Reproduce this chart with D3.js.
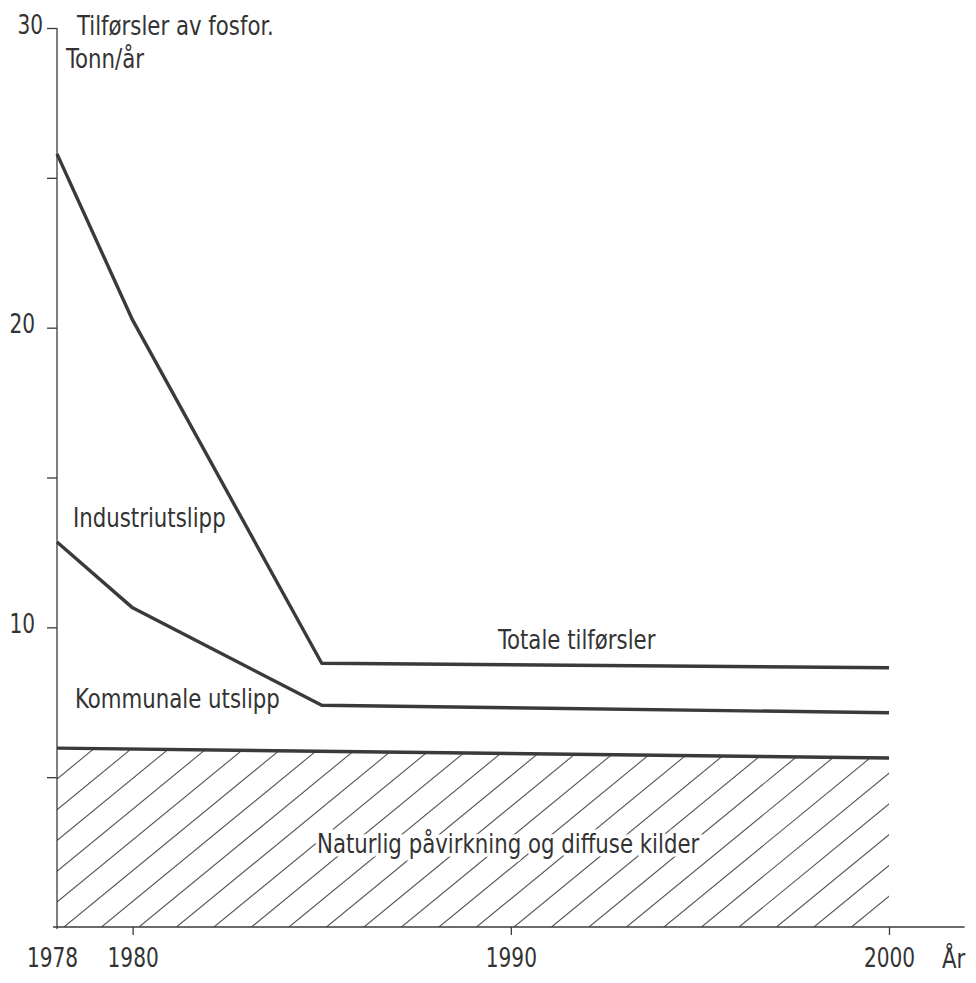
<!DOCTYPE html>
<html>
<head>
<meta charset="utf-8">
<script src="https://cdn.jsdelivr.net/npm/d3@7"></script>
<style>
  body { margin: 0; background: #fff; }
  svg { display: block; }
  text { font-family: "DejaVu Sans Condensed", "Liberation Sans Narrow", "Liberation Sans", sans-serif; fill: #333; }
</style>
</head>
<body>
<svg id="chart"></svg>
<script>
// data (tonn fosfor per år)
const years = [1978, 1980, 1985, 2000];
const totale = [25.8, 20.25, 8.8, 8.65];
const kommunaleTopp = [12.85, 10.65, 7.4, 7.15];
const naturYears = [1978, 2000];
const naturlig = [5.97, 5.64];
const yTicks = [5, 10, 15, 20, 25, 30];
const yLabels = [10, 20, 30];
const xTicks = [1978, 1980, 1990, 2000];

const width = 976, height = 983;
const svg = d3.select("#chart").attr("width", width).attr("height", height);

const x = d3.scaleLinear().domain([1978, 2000]).range([57, 889]);
const y = d3.scaleLinear().domain([0, 30]).range([927, 28]);

const ink = "#3a3a3a";

// hatched area for natural sources
const area = d3.area()
  .x(d => x(d[0]))
  .y0(y(0))
  .y1(d => y(d[1]));
const natData = naturYears.map((yr, i) => [yr, naturlig[i]]);

svg.append("clipPath").attr("id", "natclip")
  .append("path").attr("d", area(natData));

const hatch = svg.append("g").attr("clip-path", "url(#natclip)");
const slope = 0.82, step = 37.5, hH = 220;
for (let xb = x(1978) + 7 - 6 * step; xb < x(2000) + step; xb += step) {
  hatch.append("line")
    .attr("x1", xb).attr("y1", y(0))
    .attr("x2", xb + hH / slope).attr("y2", y(0) - hH)
    .attr("stroke", "#555").attr("stroke-width", 1.1);
}

// axes
const yAxis = d3.axisLeft(y)
  .tickValues(yTicks)
  .tickSize(10)
  .tickPadding(12)
  .tickFormat(d => yLabels.includes(d) ? d : "");
const gy = svg.append("g").attr("transform", `translate(${x(1978)},0)`).call(yAxis);
gy.select(".domain").remove();
gy.selectAll(".tick line").attr("stroke", ink).attr("stroke-width", 1.3);
gy.selectAll(".tick text").attr("font-size", 26).attr("dy", "0.2em");
gy.selectAll(".tick").filter(d => d === 30).select("text").attr("dx", 8);

svg.append("line")
  .attr("x1", x(1978)).attr("x2", x(1978))
  .attr("y1", y(30)).attr("y2", y(0) + 2)
  .attr("stroke", ink).attr("stroke-width", 1.3);

const xAxis = d3.axisBottom(x)
  .tickValues(xTicks)
  .tickSize(8)
  .tickFormat(d3.format("d"));
const gx = svg.append("g").attr("transform", `translate(0,${y(0)})`).call(xAxis);
gx.select(".domain").remove();
gx.selectAll(".tick line").attr("stroke", ink).attr("stroke-width", 1.3)
  .filter(d => d === 1978).remove();
gx.selectAll(".tick text").attr("font-size", 26).attr("y", 40).attr("dy", 0);
gx.selectAll(".tick").filter(d => d === 1978).select("text").attr("dx", -5);

svg.append("line")
  .attr("x1", x(1978) - 4).attr("x2", x(2002))
  .attr("y1", y(0)).attr("y2", y(0))
  .attr("stroke", ink).attr("stroke-width", 1.3);

svg.append("text").attr("x", x(2001.4)).attr("y", y(0) + 41)
  .attr("font-size", 26).text("År");

// lines
const line = d3.line().x(d => x(d[0])).y(d => y(d[1]));
const series = [
  years.map((yr, i) => [yr, totale[i]]),
  years.map((yr, i) => [yr, kommunaleTopp[i]]),
  natData
];
svg.selectAll(".serie").data(series).join("path")
  .attr("class", "serie")
  .attr("d", line)
  .attr("fill", "none")
  .attr("stroke", ink)
  .attr("stroke-width", 3.4)
  .attr("stroke-linejoin", "round");

// labels
const labels = [
  { t: "Tilførsler av fosfor.", x: 77, y: 35 },
  { t: "Tonn/år", x: 66, y: 68 },
  { t: "Industriutslipp", x: 73, y: 527 },
  { t: "Totale tilførsler", x: 498, y: 649 },
  { t: "Kommunale utslipp", x: 75, y: 708 },
  { t: "Naturlig påvirkning og diffuse kilder", x: 317, y: 853, halo: true }
];
svg.selectAll(".lbl").data(labels).join("text")
  .attr("class", "lbl")
  .attr("x", d => d.x)
  .attr("y", d => d.y)
  .attr("font-size", 26)
  .attr("stroke", d => d.halo ? "#fff" : null)
  .attr("stroke-width", d => d.halo ? 7 : null)
  .attr("paint-order", "stroke")
  .text(d => d.t);

// squeeze the type to look like the narrow face of the original
svg.selectAll("text").each(function () {
  const isNum = /^\d+$/.test(this.textContent);
  const w = this.getComputedTextLength();
  if (w > 0) {
    d3.select(this)
      .attr("textLength", w * (isNum ? 0.86 : 0.91))
      .attr("lengthAdjust", "spacingAndGlyphs");
  }
});
</script>
</body>
</html>
